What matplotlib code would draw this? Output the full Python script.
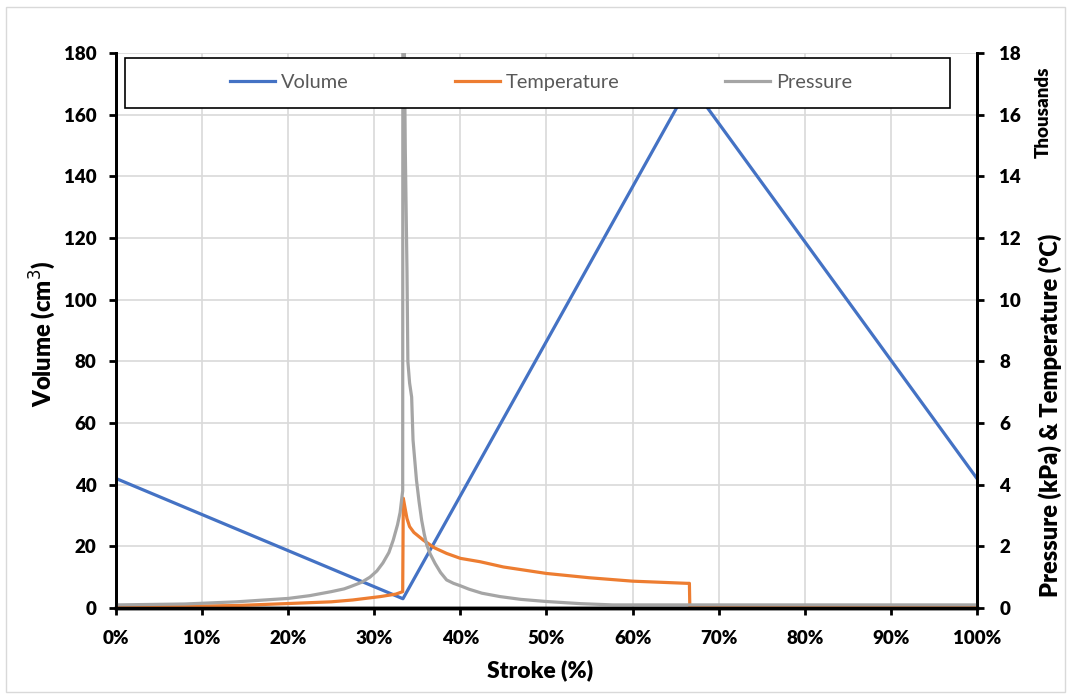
import matplotlib.pyplot as plt
from matplotlib.patches import Rectangle
from matplotlib.ticker import FuncFormatter, MultipleLocator

plt.rcParams['font.family'] = ['Lato', 'DejaVu Sans']

# Volume over the stroke (cm3)
stroke_v = [0, 33.33, 66.67, 100]
volume = [42, 3, 170, 42]

# Gas temperature (deg C)
stroke_t = [0, 3, 8, 14, 20.5, 25, 27.5, 30.7, 32.5, 33.3, 33.37, 33.6, 33.8,
            34.1, 34.6, 35.7, 37.0, 38.4, 40, 42.3, 45, 50, 55, 60, 66.3, 66.6,
            66.65, 100]
temperature = [25, 40, 55, 80, 150, 200, 260, 370, 450, 530, 3560, 3200, 2900,
               2640, 2450, 2200, 1950, 1770, 1610, 1500, 1330, 1120, 980, 870,
               800, 800, 25, 25]

# Cylinder pressure (kPa)
stroke_p = [0, 8, 14, 20, 22.5, 25, 26.5, 27.2, 28.5, 29.5, 30.3, 31, 31.7,
            32.2, 32.7, 33.0, 33.3, 33.33, 33.5, 33.6, 33.8, 33.9, 34.1, 34.34,
            34.5, 34.9, 35.2, 35.5, 35.8, 36.1, 36.5, 37.05, 37.7, 38.4, 39.2,
            40, 41, 42.5, 44.6, 47, 50, 54, 57.7, 66.7, 100]
pressure = [100, 130, 200, 310, 400, 530, 620, 690, 830, 1000, 1200, 1460, 1800,
            2200, 2700, 3100, 3800, 30000, 18000, 14900, 10900, 8000, 7300, 6840,
            5450, 4150, 3450, 2850, 2400, 2040, 1750, 1450, 1150, 910, 800,
            720, 610, 480, 370, 280, 210, 140, 100, 100, 100]

blue, orange, grey = '#4472C4', '#ED7D31', '#A5A5A5'

fig = plt.figure(figsize=(10.71, 6.99), dpi=100)
ax = fig.add_axes([0.1083, 0.1302, 0.8039, 0.794])
ax2 = ax.twinx()

l1, = ax.plot(stroke_v, volume, color=blue, lw=2.3, label='Volume')
l2, = ax2.plot(stroke_t, temperature, color=orange, lw=2.3, label='Temperature')
l3, = ax2.plot(stroke_p, pressure, color=grey, lw=2.3, label='Pressure')

ax.set_xlim(0, 100)
ax.set_ylim(0, 180)
ax2.set_ylim(0, 18000)
ax.xaxis.set_major_locator(MultipleLocator(10))
ax.yaxis.set_major_locator(MultipleLocator(20))
ax2.yaxis.set_major_locator(MultipleLocator(2000))
ax.xaxis.set_major_formatter(FuncFormatter(lambda v, p: f'{v:.0f}%'))
ax2.yaxis.set_major_formatter(FuncFormatter(lambda v, p: f'{v / 1000:.0f}'))

ax.grid(True, color='#d9d9d9', lw=1.2)
ax.set_axisbelow(True)

for a in (ax, ax2):
    a.spines['top'].set_visible(False)
    a.spines['left'].set_linewidth(2)
    a.spines['right'].set_linewidth(2)
    a.spines['bottom'].set_linewidth(2.5)
    a.tick_params(direction='out', length=5, width=2, colors='black',
                  labelsize=13.5, pad=9)
for lab in ax.get_xticklabels() + ax.get_yticklabels() + ax2.get_yticklabels():
    lab.set_fontweight('heavy')
ax.tick_params(axis='x', pad=11)
ax2.tick_params(axis='y', pad=11)

# legend box across the top of the plot
ax2.add_patch(Rectangle((0.0105, 0.901), 0.958, 0.09, transform=ax2.transAxes,
                        facecolor='white', edgecolor='black', lw=1.2, zorder=4))
leg = ax2.legend(handles=[l1, l2, l3], loc='center', bbox_to_anchor=(0.494, 0.946),
                 ncol=3, frameon=False, fontsize=14.4, handlelength=2.25,
                 handletextpad=0.3, columnspacing=5.3, labelcolor='#595959')
leg.set_zorder(5)

fig.text(0.040, 0.522, 'Volume (cm$^3$)', rotation=90, ha='center', va='center',
         fontsize=17, fontweight='heavy')
fig.text(0.504, 0.041, 'Stroke (%)', ha='center', va='center',
         fontsize=16.5, fontweight='heavy')
fig.text(0.981, 0.406, 'Pressure (kPa) & Temperature (°C)', rotation=90,
         ha='center', va='center', fontsize=17, fontweight='heavy')
fig.text(0.974, 0.84, 'Thousands', rotation=90, ha='center', va='center',
         fontsize=13.5, fontweight='heavy')

fig.patches.append(Rectangle((0.006, 0.01), 0.988, 0.98, transform=fig.transFigure,
                             fill=False, edgecolor='#d9d9d9', lw=1))

fig.savefig('out.png', dpi=100)
